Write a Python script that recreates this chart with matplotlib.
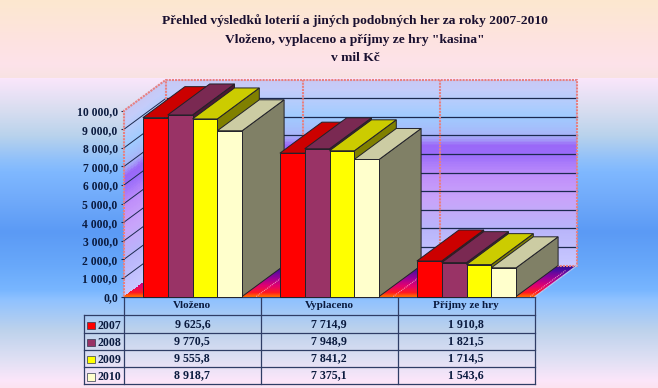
import numpy as np
import matplotlib
matplotlib.use("Agg")
import matplotlib.pyplot as plt
from matplotlib.colors import LinearSegmentedColormap, to_rgb
from matplotlib.patches import Polygon, Rectangle
from matplotlib.ticker import FuncFormatter

# ---- data ----
title_lines = ["Přehled výsledků loterií a jiných podobných her za roky 2007-2010",
               "Vloženo, vyplaceno a příjmy ze hry \"kasina\"",
               "v mil Kč"]
categories = ["Vloženo", "Vyplaceno", "Příjmy ze hry"]
years = ["2007", "2008", "2009", "2010"]
v2007 = [9625.6, 7714.9, 1910.8]
v2008 = [9770.5, 7948.9, 1821.5]
v2009 = [9555.8, 7841.2, 1714.5]
v2010 = [8918.7, 7375.1, 1543.6]
series = [v2007, v2008, v2009, v2010]
yticks = [0, 1000, 2000, 3000, 4000, 5000, 6000, 7000, 8000, 9000, 10000]
front_colors = ["#FF0000", "#993366", "#FFFF00", "#FFFFCC"]
top_colors = ["#CC0000", "#7A2952", "#CCCC00", "#CCCCA3"]
side_colors = ["#800000", "#4D1933", "#808000", "#808066"]

W, H = 658, 388
SERIF = "Liberation Serif"
INK = "#0B1B3F"
GRID = "#1C2A50"
TABLE = "#2F3D66"
PINK = "#E88080"


def fmt(v, dec=1):
    s = f"{v:,.{dec}f}"
    return s.replace(",", " ").replace(".", ",")


fig = plt.figure(figsize=(W / 100, H / 100), dpi=100)

# ---- page background and table layer, in pixel units ----
bg = fig.add_axes([0, 0, 1, 1], zorder=0)
bg.set_xlim(0, W)
bg.set_ylim(H, 0)
bg.axis("off")
stops = [(0, "#FCE8CF"), (40, "#FEE3E0"), (65, "#FDE2EA"), (78, "#F8E2E2"),
         (78.5, "#FAE6FB"), (110, "#D8DDF0"), (135, "#BAD3EC"), (160, "#8FC0FA"),
         (172, "#7FB8FF"), (200, "#70AAFA"), (232, "#5B9AF5"), (265, "#68A8FA"),
         (290, "#78B6FF"), (300, "#90C2FF"), (330, "#BDD2EC"), (360, "#E0E0F4"),
         (380, "#FBE6FA"), (388, "#FBE3F0")]
ys = np.arange(H) + 0.5
grad = np.stack([np.interp(ys, [s[0] for s in stops],
                           [to_rgb(s[1])[i] for s in stops]) for i in range(3)], axis=1)
bg.imshow(grad[:, None, :], extent=(0, W, H, 0), aspect="auto", interpolation="nearest")

for line, y in zip(title_lines, [20.5, 40, 58]):
    bg.text(355, y, line, ha="center", va="center", family=SERIF, weight="bold",
            fontsize=9.7, color="#1A1030")

# table
col_x = [124, 260.7, 397.7, 534.6]
row_y = [296.5, 315, 332.7, 350, 367, 384]
left_x = 83.5
for x in col_x:
    bg.plot([x, x], [row_y[0], row_y[-1]], color=TABLE, lw=0.9)
bg.plot([left_x, left_x], [row_y[1], row_y[-1]], color=TABLE, lw=0.9)
bg.plot([col_x[0], col_x[-1]], [row_y[0], row_y[0]], color=TABLE, lw=0.9)
for y in row_y[1:]:
    bg.plot([left_x, col_x[-1]], [y, y], color=TABLE, lw=0.9)
for c, name in enumerate(categories):
    xc = (col_x[c] + col_x[c + 1]) / 2
    bg.text(xc, 306, name, ha="center", va="center", family=SERIF, weight="bold",
            fontsize=8.0, color=INK)
    for r, vals in enumerate(series):
        bg.text(xc, 324 + 17 * r, fmt(vals[c]), ha="center", va="center", family=SERIF,
                weight="bold", fontsize=8.6, color=INK)
for r, yr in enumerate(years):
    yc = 325.7 + 17.1 * r
    bg.add_patch(Rectangle((87, yc - 4), 7.5, 7.5, facecolor=front_colors[r],
                           edgecolor="#303850", lw=0.5))
    bg.text(97, yc, yr, ha="left", va="center", family=SERIF, weight="bold",
            fontsize=8.6, color=INK)

# ---- chart axes: oblique 3D built in data units ----
ax = fig.add_axes([124 / W, (H - 296.5) / H, (535 - 124) / W, (296.5 - 110.7) / H], zorder=1)
ax.patch.set_alpha(0)
for s in ax.spines.values():
    s.set_visible(False)
n_cat = len(categories)
YMAX = yticks[-1]
DX = 42 / 137.0      # depth shift, in category units
DY = 31 / 18.58 * 1000  # depth shift, in value units

wall_cmap = LinearSegmentedColormap.from_list("wall", [
    (0.00, "#C8C8F4"), (0.05, "#C4CCFA"), (0.20, "#A0CCFF"), (0.30, "#A8B4F8"),
    (0.355, "#9A68F8"), (0.40, "#9A6CFA"), (0.52, "#C090FA"), (0.65, "#C8A4FA"),
    (0.80, "#B8B4FA"), (1.00, "#C8C8FF")])
floor_cmap = LinearSegmentedColormap.from_list("floor", [
    (0.00, "#FF6A00"), (0.12, "#FF1A20"), (0.35, "#E00070"), (0.60, "#9A0098"),
    (0.85, "#4A0CA0"), (1.00, "#300C90")])

# back wall
t = np.linspace(0, 1, 120)
Xb, Yb = np.meshgrid(np.array([0, n_cat]) + DX, DY + t * YMAX)
ax.pcolormesh(Xb, Yb, 1 - (0.5 * (t[1:] + t[:-1]))[:, None], cmap=wall_cmap, vmin=0, vmax=1,
              zorder=1, clip_on=False, shading="flat")
# side wall
Xs = np.tile(DX * np.linspace(0, 1, 30), (len(t), 1))
Ys = t[:, None] * YMAX + DY * np.linspace(0, 1, 30)[None, :]
ax.pcolormesh(Xs, Ys, np.tile(1 - (0.5 * (t[1:] + t[:-1]))[:, None], (1, 29)), cmap=wall_cmap,
              vmin=0, vmax=1, zorder=1, clip_on=False, shading="flat")
# floor
dd = np.linspace(0, 1, 60)
Xf = np.array([[k + DX * q for k in (0, n_cat)] for q in dd])
Yf = np.array([[DY * q for _ in (0, n_cat)] for q in dd])
ax.pcolormesh(Xf, Yf, (0.5 * (dd[1:] + dd[:-1]))[:, None], cmap=floor_cmap, vmin=0, vmax=1,
              zorder=1, clip_on=False, shading="flat")
for k in range(1, n_cat + 1):
    ax.plot([k - 0.035, k - 0.035 + DX * 0.85], [0, DY * 0.85], color="#F8A8C8", lw=0.7,
            ls=(0, (1, 1)), zorder=1.5, clip_on=False)

# gridlines on walls
for v in yticks[1:-1]:
    ax.plot([0, DX], [v, v + DY], color=GRID, lw=0.7, zorder=2, clip_on=False)
    ax.plot([DX, n_cat + DX], [v + DY, v + DY], color=GRID, lw=0.9, zorder=2, clip_on=False)

# dotted wall outlines and separators
dots = dict(color=PINK, lw=1.5, ls=(0, (1, 0.5)), zorder=2.5, clip_on=False)
ax.plot([DX, n_cat + DX, n_cat + DX, DX, DX], [DY, DY, DY + YMAX, DY + YMAX, DY], **dots)
ax.plot([0, 0, DX], [0, YMAX, DY + YMAX], **dots)
for k in range(1, n_cat):
    ax.plot([k + DX, k + DX], [DY, DY + YMAX], **dots)
ax.plot([n_cat, n_cat + DX], [0, DY], color="#B8C8F0", lw=0.8, zorder=2.5, clip_on=False)

# bars
bw = 24.8 / 137.0
edge = "#22222A"
z = 3.0
for c in range(n_cat):
    for j, vals in enumerate(series):
        x0 = c + 0.5 + (j - 2) * bw
        x1 = x0 + bw
        v = vals[c]
        ax.add_patch(Polygon([(x1, 0), (x1 + DX, DY), (x1 + DX, v + DY), (x1, v)],
                             facecolor=side_colors[j], edgecolor=edge, lw=0.7, zorder=z,
                             clip_on=False))
        ax.add_patch(Polygon([(x0, v), (x1, v), (x1 + DX, v + DY), (x0 + DX, v + DY)],
                             facecolor=top_colors[j], edgecolor=edge, lw=0.7, zorder=z,
                             clip_on=False))
        ax.bar([x0], [v], width=bw, align="edge", color=front_colors[j], edgecolor=edge,
               lw=0.7, zorder=z, clip_on=False)
        z += 0.01

ax.set_xlim(0, n_cat)
ax.set_ylim(0, YMAX)
ax.set_xticks([])
ax.set_yticks(yticks)
ax.yaxis.set_major_formatter(FuncFormatter(lambda v, _: fmt(v)))
ax.tick_params(axis="y", length=2.5, width=0.8, color=GRID, pad=2.0, labelcolor=INK)
for lab in ax.get_yticklabels():
    lab.set_family(SERIF)
    lab.set_weight("bold")
    lab.set_fontsize(8.4)

fig.savefig("out.png", dpi=100)
